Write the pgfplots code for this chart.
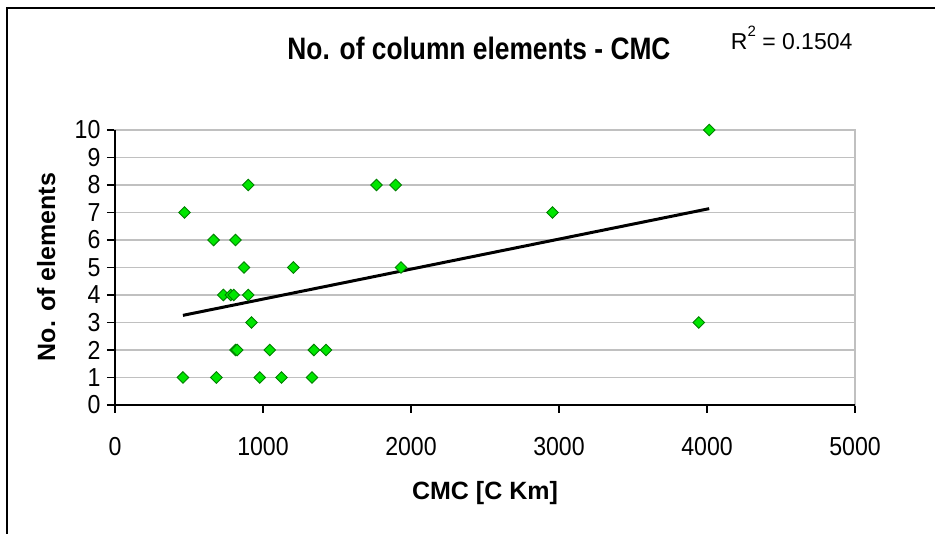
\documentclass[border=0pt]{standalone}
\usepackage{fontspec}
\setmainfont{Liberation Sans}
\newfontfamily\tickfont{Liberation Sans}[FakeStretch=0.89]
\newfontfamily\titlefont{Liberation Sans}[FakeStretch=0.85]
\usepackage{pgfplots}
\pgfplotsset{compat=1.18}
\definecolor{gridgray}{RGB}{192,192,192}
\definecolor{markfill}{RGB}{0,230,0}
\definecolor{markedge}{RGB}{0,128,0}

% CMC [C Km] vs number of column elements
\pgfplotstableread{
cmc   n
900   8
1767  8
1896  8
470   7
2956  7
666   6
814   6
872   5
1205  5
1932  5
732   4
782   4
802   4
900   4
922   3
3944  3
814   2
825   2
1046  2
1344  2
1426  2
459   1
685   1
978   1
1125  1
1331  1
4015  10
}\cmcdata

\begin{document}
\begin{tikzpicture}
\useasboundingbox (0,0) rectangle (935bp,534bp);
\fill[white] (0,0) rectangle (935bp,534bp);
\draw[line width=2bp] (6.5bp,0) -- (6.5bp,526bp) -- (935bp,526bp);

\begin{axis}[
    at={(115bp,129bp)}, anchor=south west,
    scale only axis, width=740bp, height=275bp,
    xmin=0, xmax=5000, ymin=0, ymax=10,
    xtick={0,1000,...,5000}, ytick={0,1,...,10},
    scaled x ticks=false,
    /pgf/number format/assume math mode=true,
    /pgf/number format/set thousands separator={},
    tick label style={font=\tickfont\fontsize{26bp}{30bp}\selectfont},
    xticklabel style={yshift=-21bp},
    yticklabel style={xshift=-3bp},
    ymajorgrids,
    major grid style={gridgray, line width=1.5bp},
    axis line style={gridgray, line width=1.5bp},
    major tick style={black, line width=1.5bp},
    major tick length=8bp,
    tick align=outside,
    xtick pos=bottom, ytick pos=left,
    clip=false,
]
\draw[black, line width=2bp] (rel axis cs:0,1) -- (rel axis cs:0,0) -- (rel axis cs:1,0);

% linear trend line
\addplot[black, line width=3bp, no marks] coordinates {(459,3.26) (4015,7.14)};

\addplot[only marks, mark=square*, mark size=4.1bp,
    mark options={rotate=45, fill=markfill, draw=markedge, line width=0.9bp}]
    table[x=cmc, y=n] {\cmcdata};
\end{axis}

\node[anchor=base, font=\titlefont\bfseries\fontsize{31bp}{36bp}\selectfont]
    at (479bp,474.7bp) {No. of column elements - CMC};
\node[anchor=base west, inner sep=0pt, font=\fontsize{23bp}{27bp}\selectfont]
    at (730.7bp,484.7bp) {R\raisebox{0.55em}{\fontsize{15bp}{17bp}\selectfont 2} = 0.1504};
\node[anchor=base, font=\bfseries\fontsize{25bp}{30bp}\selectfont]
    at (485bp,34.7bp) {CMC [C Km]};
\node[rotate=90, anchor=base, font=\bfseries\fontsize{25bp}{30bp}\selectfont]
    at (55bp,267bp) {No. of elements};
\end{tikzpicture}
\end{document}
